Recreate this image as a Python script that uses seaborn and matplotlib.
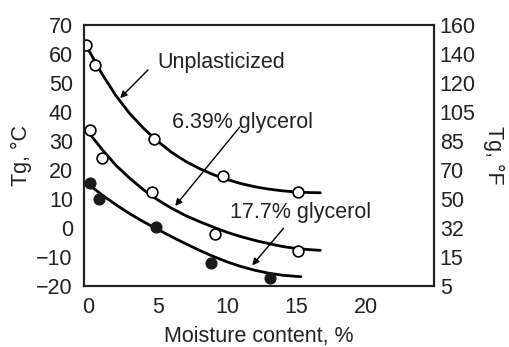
import matplotlib
matplotlib.use("Agg")
import matplotlib.pyplot as plt
import seaborn as sns
import pandas as pd

# ---- data ----
# measured points (moisture %, Tg °C)
unpl_x = [-0.15, 0.5, 4.7, 9.7, 15.1]
unpl_y = [63.0, 56.1, 30.6, 17.8, 12.2]
g639_x = [0.1, 1.0, 4.6, 9.1, 15.1]
g639_y = [33.7, 24.1, 12.3, -2.2, -7.9]
g177_x = [0.1, 0.8, 4.9, 8.8, 13.1]
g177_y = [15.5, 9.9, 0.3, -12.1, -17.4]

# fitted curves
curve_unpl_x = [0, 1, 2, 3, 4, 5, 6, 7, 8, 9, 10, 11, 12, 13, 14, 15, 16, 16.7]
curve_unpl_y = [61.5, 53.0, 45.5, 39.3, 34.2, 29.8, 26.0, 22.9, 20.4, 18.3,
                16.6, 15.2, 14.1, 13.3, 12.7, 12.3, 12.1, 12.05]
curve_g639_x = [0, 1, 2, 3, 4, 5, 6, 7, 8, 9, 10, 11, 12, 13, 14, 15, 16, 16.7]
curve_g639_y = [33.0, 27.0, 21.5, 17.0, 13.0, 9.6, 6.7, 4.2, 2.1, 0.2,
                -1.6, -3.1, -4.4, -5.5, -6.5, -7.2, -7.6, -7.8]
curve_g177_x = [0, 1, 2, 3, 4, 5, 6, 7, 8, 9, 10, 11, 12, 13, 14, 15, 15.3]
curve_g177_y = [15.0, 11.3, 7.9, 4.8, 2.0, -0.6, -3.1, -5.5, -7.8, -9.9,
                -11.8, -13.4, -14.7, -15.7, -16.4, -16.8, -16.9]

# axis ticks
c_ticks = [70, 60, 50, 40, 30, 20, 10, 0, -10, -20]
f_labels = ["160", "140", "120", "105", "85", "70", "50", "32", "15", "5"]
x_ticks = [0, 5, 10, 15, 20]

series_names = ["Unplasticized", "6.39% glycerol", "17.7% glycerol"]

FS = 15.5

# ---- style ----
sns.set_style("white")
plt.rcParams["font.family"] = ["Liberation Sans", "DejaVu Sans"]
plt.rcParams["font.size"] = FS

fig = plt.figure(figsize=(5.10, 3.47), dpi=100)
ax = fig.add_axes([0.1647, 0.1767, 0.8516 - 0.1647, 0.9288 - 0.1767])

curves = pd.concat([
    pd.DataFrame({"x": curve_unpl_x, "y": curve_unpl_y, "s": series_names[0]}),
    pd.DataFrame({"x": curve_g639_x, "y": curve_g639_y, "s": series_names[1]}),
    pd.DataFrame({"x": curve_g177_x, "y": curve_g177_y, "s": series_names[2]}),
])
sns.lineplot(data=curves, x="x", y="y", units="s", estimator=None, sort=False,
             color="black", lw=2.0, ax=ax, legend=False)

open_pts = pd.DataFrame({"x": unpl_x + g639_x, "y": unpl_y + g639_y})
filled_pts = pd.DataFrame({"x": g177_x, "y": g177_y})
sns.scatterplot(data=open_pts, x="x", y="y", s=60, facecolor="white",
                edgecolor="black", linewidth=1.2, ax=ax, zorder=3)
sns.scatterplot(data=filled_pts, x="x", y="y", s=60, color="#1a1a1a",
                edgecolor="#1a1a1a", linewidth=1.0, ax=ax, zorder=3)

ax.set_xlim(-0.3, 24.9)
ax.set_ylim(-20, 70)

for sp in ax.spines.values():
    sp.set_linewidth(1.5)
    sp.set_color("#222222")

# labels as major ticks (no tick marks), interior tick marks as minor
ax.set_yticks(c_ticks)
ax.set_yticklabels([str(v).replace("-", "\u2212") for v in c_ticks])
ax.set_yticks(c_ticks[1:-1], minor=True)
ax.set_xticks(x_ticks)
ax.set_xticklabels([str(v) for v in x_ticks])
ax.set_xticks(x_ticks[1:], minor=True)
ax.tick_params(axis="both", which="major", length=0, labelsize=FS,
               labelcolor="#222222")
ax.tick_params(axis="y", which="major", pad=8)
ax.tick_params(axis="x", which="major", pad=8)
ax.tick_params(axis="both", which="minor", direction="in", length=8.5,
               width=1.3, color="#222222")
ax.tick_params(axis="x", which="minor", top=True, bottom=True)

ax2 = ax.twinx()
ax2.set_ylim(-20, 70)
ax2.set_yticks(c_ticks)
ax2.set_yticklabels(f_labels)
ax2.set_yticks(c_ticks[1:-1], minor=True)
ax2.tick_params(axis="y", which="major", length=0, pad=4, labelsize=FS,
                labelcolor="#222222")
ax2.tick_params(axis="y", which="minor", direction="in", length=8.5,
                width=1.3, color="#222222")
for sp in ax2.spines.values():
    sp.set_linewidth(1.5)
    sp.set_color("#222222")

ax.set_xlabel("Moisture content, %", fontsize=FS, labelpad=6, color="#222222")
ax.set_ylabel("Tg, \u00b0C", fontsize=FS, labelpad=3, color="#222222")
ax2.set_ylabel("Tg, \u00b0F", fontsize=FS, rotation=270, labelpad=20,
               color="#222222")

arrow = dict(arrowstyle="-|>", lw=1.0, color="black", mutation_scale=10,
             shrinkA=0, shrinkB=0)
ax.annotate("", xy=(2.3, 44.7), xytext=(4.3, 54.4), arrowprops=arrow)
ax.text(5.0, 56.8, series_names[0], fontsize=FS, va="center", ha="left",
        color="#222222")
ax.annotate("", xy=(6.26, 7.5), xytext=(10.9, 34.7), arrowprops=arrow)
ax.text(6.0, 36.4, series_names[1], fontsize=FS, va="center", ha="left",
        color="#222222")
ax.annotate("", xy=(11.8, -13.0), xytext=(14.05, -0.2), arrowprops=arrow)
ax.text(10.2, 5.1, series_names[2], fontsize=FS, va="center", ha="left",
        color="#222222")

fig.savefig("out.png", dpi=100)
